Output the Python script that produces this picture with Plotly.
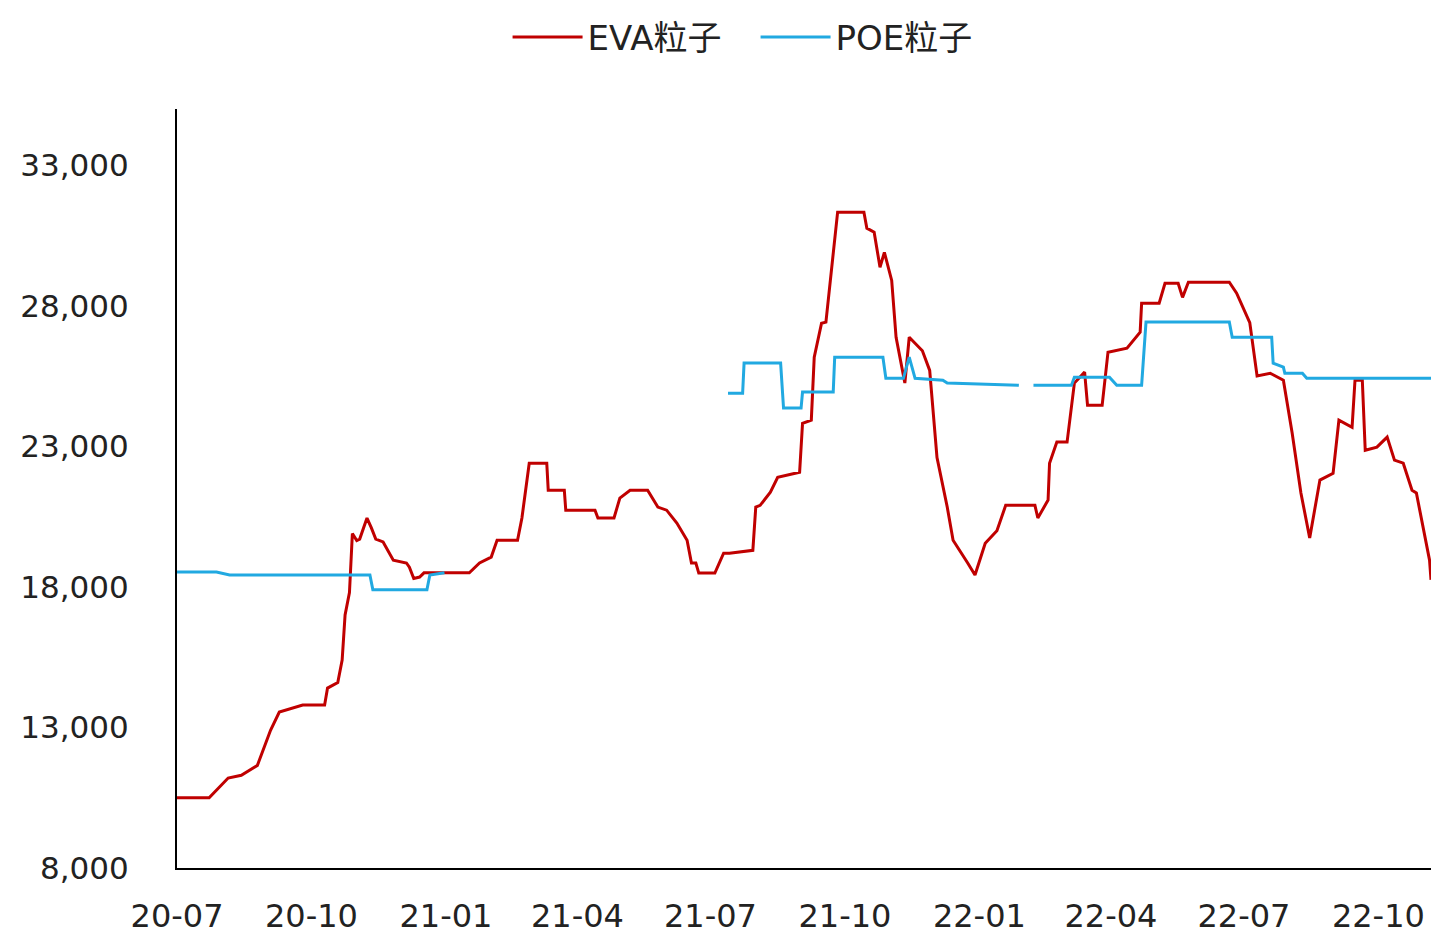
import plotly.graph_objects as go

# EVA粒子 价格（元/吨）
eva_dates = [
    '2020-07-01', '2020-07-23', '2020-08-05', '2020-08-14', '2020-08-25', '2020-09-03',
    '2020-09-09', '2020-09-25', '2020-10-10', '2020-10-12', '2020-10-19', '2020-10-22',
    '2020-10-24', '2020-10-27', '2020-10-29', '2020-11-01', '2020-11-03', '2020-11-08',
    '2020-11-11', '2020-11-14', '2020-11-19', '2020-11-26', '2020-12-05', '2020-12-07',
    '2020-12-10', '2020-12-14', '2020-12-17', '2021-01-17', '2021-01-24', '2021-02-01',
    '2021-02-05', '2021-02-19', '2021-02-22', '2021-02-27', '2021-03-11', '2021-03-12',
    '2021-03-23', '2021-03-24', '2021-04-13', '2021-04-15', '2021-04-26', '2021-04-30',
    '2021-05-07', '2021-05-19', '2021-05-26', '2021-06-01', '2021-06-08', '2021-06-15',
    '2021-06-18', '2021-06-21', '2021-06-23', '2021-07-04', '2021-07-10', '2021-07-14',
    '2021-07-30', '2021-08-01', '2021-08-04', '2021-08-11', '2021-08-16', '2021-08-31',
    '2021-09-02', '2021-09-08', '2021-09-10', '2021-09-15', '2021-09-18', '2021-09-26',
    '2021-10-14', '2021-10-16', '2021-10-21', '2021-10-25', '2021-10-28', '2021-11-02',
    '2021-11-05', '2021-11-11', '2021-11-14', '2021-11-23', '2021-11-28', '2021-12-03',
    '2021-12-10', '2021-12-14', '2021-12-24', '2021-12-29', '2022-01-05', '2022-01-13',
    '2022-01-19', '2022-02-08', '2022-02-10', '2022-02-17', '2022-02-18', '2022-02-23',
    '2022-03-02', '2022-03-07', '2022-03-14', '2022-03-16', '2022-03-26', '2022-03-30',
    '2022-04-12', '2022-04-21', '2022-04-22', '2022-05-04', '2022-05-08', '2022-05-17',
    '2022-05-20', '2022-05-24', '2022-06-21', '2022-06-26', '2022-07-05', '2022-07-10',
    '2022-07-19', '2022-07-28', '2022-08-03', '2022-08-09', '2022-08-15', '2022-08-22',
    '2022-08-31', '2022-09-04', '2022-09-13', '2022-09-15', '2022-09-20', '2022-09-22',
    '2022-09-30', '2022-10-07', '2022-10-12', '2022-10-18', '2022-10-24', '2022-10-27',
    '2022-11-05', '2022-11-06',
]
eva_values = [
    10500, 10500, 11200, 11300, 11650, 12900,
    13550, 13800, 13800, 14400, 14600, 15400,
    17000, 17800, 19900, 19650, 19700, 20450,
    20100, 19700, 19600, 18950, 18850, 18700,
    18300, 18350, 18500, 18500, 18850, 19060,
    19660, 19660, 20450, 22400, 22400, 21440,
    21440, 20730, 20730, 20450, 20450, 21160,
    21440, 21440, 20840, 20730, 20270, 19660,
    18850, 18850, 18490, 18490, 19200, 19200,
    19300, 20840, 20900, 21370, 21900, 22080,
    23820, 23930, 26170, 27380, 27420, 31330,
    31330, 30760, 30620, 29370, 29900, 28900,
    26880, 25250, 26880, 26400, 25700, 22600,
    20840, 19660, 18850, 18420, 19550, 20000,
    20900, 20900, 20450, 21090, 22400, 23150,
    23150, 25250, 25640, 24460, 24460, 26350,
    26490, 27060, 28090, 28090, 28800, 28800,
    28300, 28840, 28840, 28450, 27400, 25500,
    25600, 25350, 23470, 21340, 19740, 21800,
    22040, 23930, 23680, 25350, 25350, 22860,
    22970, 23330, 22510, 22400, 21440, 21340,
    18950, 18250,
]

# POE粒子 价格（元/吨），None 为缺失
poe_dates = [
    '2020-07-01', '2020-07-28', '2020-08-06', '2020-11-10', '2020-11-12', '2020-12-19',
    '2020-12-21', '2020-12-31', '2021-04-01', '2021-07-13', '2021-07-23', '2021-07-24',
    '2021-08-18', '2021-08-20', '2021-09-01', '2021-09-02', '2021-09-23', '2021-09-24',
    '2021-10-27', '2021-10-29', '2021-11-10', '2021-11-14', '2021-11-18', '2021-12-07',
    '2021-12-10', '2022-01-28', '2022-02-02', '2022-02-07', '2022-03-05', '2022-03-07',
    '2022-03-31', '2022-04-05', '2022-04-22', '2022-04-25', '2022-06-21', '2022-06-23',
    '2022-07-20', '2022-07-21', '2022-07-28', '2022-07-29', '2022-08-10', '2022-08-13',
    '2022-11-06',
]
poe_values = [
    18530, 18530, 18420, 18420, 17900, 17900,
    18420, 18500, None, 24890, 24890, 25960,
    25960, 24360, 24360, 24930, 24930, 26170,
    26170, 25420, 25420, 26170, 25420, 25350,
    25250, 25170, None, 25170, 25170, 25460,
    25460, 25170, 25170, 27420, 27420, 26880,
    26880, 25960, 25820, 25600, 25600, 25420,
    25420,
]

x_tick_dates = ['2020-07-01', '2020-10-01', '2021-01-01', '2021-04-01', '2021-07-01',
                '2021-10-01', '2022-01-01', '2022-04-01', '2022-07-01', '2022-10-01']
x_tick_labels = ['20-07', '20-10', '21-01', '21-04', '21-07',
                 '21-10', '22-01', '22-04', '22-07', '22-10']
y_ticks = [8000, 13000, 18000, 23000, 28000, 33000]

font_family = 'DejaVu Sans, Noto Sans CJK SC, sans-serif'

fig = go.Figure()
fig.add_trace(go.Scatter(x=eva_dates, y=eva_values, mode='lines', name='EVA粒子',
                         line=dict(color='#C00000', width=3)))
fig.add_trace(go.Scatter(x=poe_dates, y=poe_values, mode='lines', name='POE粒子',
                         line=dict(color='#21A9E1', width=3), connectgaps=False))

fig.update_layout(
    width=1431, height=936,
    margin=dict(l=177, r=0, t=109, b=68),
    paper_bgcolor='white', plot_bgcolor='white',
    font=dict(family=font_family, size=32, color='#222222'),
    showlegend=True,
    legend=dict(orientation='h', xref='container', yref='container',
                x=0.528, xanchor='center', y=0.96, yanchor='middle',
                font=dict(size=34), itemwidth=70, entrywidth=163),
)
fig.update_xaxes(
    type='date', range=['2020-07-01', '2022-11-06'],
    tickvals=x_tick_dates, ticktext=x_tick_labels,
    showgrid=False, zeroline=False, automargin=False,
    showline=True, linecolor='black', linewidth=2,
    ticks='', ticklabelstandoff=19, tickfont=dict(size=32),
)
fig.update_yaxes(
    range=[8000, 35000], tickvals=y_ticks, tickformat=',',
    showgrid=False, zeroline=False, automargin=False,
    showline=True, linecolor='black', linewidth=2,
    ticks='', ticklabelstandoff=40, tickfont=dict(size=31),
)

# 去掉页面默认边距，让图表贴齐窗口
fig.write_html('out.html', config={'displayModeBar': False},
               post_script="document.body.style.margin='0';document.body.style.overflow='hidden';")
